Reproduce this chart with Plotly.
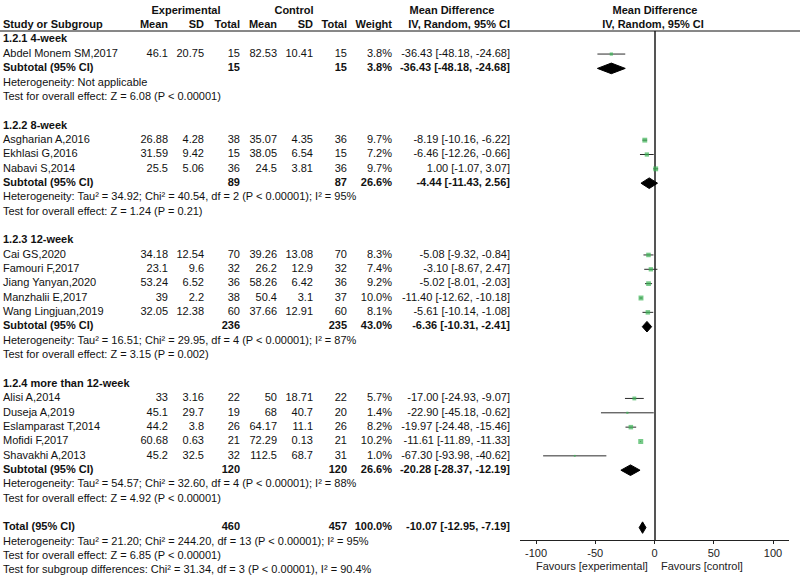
import plotly.graph_objects as go

# ---------------- data ----------------
groups = ["1.2.1 4-week", "1.2.2 8-week", "1.2.3 12-week", "1.2.4 more than 12-week"]
study = ["Abdel Monem SM,2017",
         "Asgharian A,2016", "Ekhlasi G,2016", "Nabavi S,2014",
         "Cai GS,2020", "Famouri F,2017", "Jiang Yanyan,2020", "Manzhalii E,2017", "Wang Lingjuan,2019",
         "Alisi A,2014", "Duseja A,2019", "Eslamparast T,2014", "Mofidi F,2017", "Shavakhi A,2013"]
group_of = [0, 1, 1, 1, 2, 2, 2, 2, 2, 3, 3, 3, 3, 3]
exp_mean = [46.1, 26.88, 31.59, 25.5, 34.18, 23.1, 53.24, 39, 32.05, 33, 45.1, 44.2, 60.68, 45.2]
exp_sd = [20.75, 4.28, 9.42, 5.06, 12.54, 9.6, 6.52, 2.2, 12.38, 3.16, 29.7, 3.8, 0.63, 32.5]
exp_n = [15, 38, 15, 36, 70, 32, 36, 38, 60, 22, 19, 26, 21, 32]
ctl_mean = [82.53, 35.07, 38.05, 24.5, 39.26, 26.2, 58.26, 50.4, 37.66, 50, 68, 64.17, 72.29, 112.5]
ctl_sd = [10.41, 4.35, 6.54, 3.81, 13.08, 12.9, 6.42, 3.1, 12.91, 18.71, 40.7, 11.1, 0.13, 68.7]
ctl_n = [15, 36, 15, 36, 70, 32, 36, 37, 60, 22, 20, 26, 21, 31]
weight = [3.8, 9.7, 7.2, 9.7, 8.3, 7.4, 9.2, 10.0, 8.1, 5.7, 1.4, 8.2, 10.2, 1.0]
md = [-36.43, -8.19, -6.46, 1.00, -5.08, -3.10, -5.02, -11.40, -5.61, -17.00, -22.90, -19.97, -11.61, -67.30]
ci_lo = [-48.18, -10.16, -12.26, -1.07, -9.32, -8.67, -8.01, -12.62, -10.14, -24.93, -45.18, -24.48, -11.89, -93.98]
ci_hi = [-24.68, -6.22, -0.66, 3.07, -0.84, 2.47, -2.03, -10.18, -1.08, -9.07, -0.62, -15.46, -11.33, -40.62]

sub_exp_n = [15, 89, 236, 120]
sub_ctl_n = [15, 87, 235, 120]
sub_weight = [3.8, 26.6, 43.0, 26.6]
sub_md = [-36.43, -4.44, -6.36, -20.28]
sub_lo = [-48.18, -11.43, -10.31, -28.37]
sub_hi = [-24.68, 2.56, -2.41, -12.19]
sub_het = ["Heterogeneity: Not applicable",
           "Heterogeneity: Tau² = 34.92; Chi² = 40.54, df = 2 (P < 0.00001); I² = 95%",
           "Heterogeneity: Tau² = 16.51; Chi² = 29.95, df = 4 (P < 0.00001); I² = 87%",
           "Heterogeneity: Tau² = 54.57; Chi² = 32.60, df = 4 (P < 0.00001); I² = 88%"]
sub_test = ["Test for overall effect: Z = 6.08 (P < 0.00001)",
            "Test for overall effect: Z = 1.24 (P = 0.21)",
            "Test for overall effect: Z = 3.15 (P = 0.002)",
            "Test for overall effect: Z = 4.92 (P < 0.00001)"]

total_exp_n = 460
total_ctl_n = 457
total_weight = 100.0
total_md = -10.07
total_lo = -12.95
total_hi = -7.19
total_notes = ["Heterogeneity: Tau² = 21.20; Chi² = 244.20, df = 13 (P < 0.00001); I² = 95%",
               "Test for overall effect: Z = 6.85 (P < 0.00001)",
               "Test for subgroup differences: Chi² = 31.34, df = 3 (P < 0.00001), I² = 90.4%"]

tick_vals = [-100, -50, 0, 50, 100]
tick_text = ["-100", "-50", "0", "50", "100"]
favours = ["Favours [experimental]", "Favours [control]"]

# ---------------- layout constants ----------------
W, H = 800, 577
ROW0_PX = 39.7      # pixel y of row 0
ROW_PX = 14.35      # pixels per row
HEADER_PX = 31      # header rule
AXIS_PX = 540       # forest x-axis line
FONT = "Liberation Sans, Arial, sans-serif"
FS = 11


def px_to_row(p):
    return (p - ROW0_PX) / ROW_PX


# column anchors (pixel x on table axis)
X_NAME = 3
X_EM, X_ESD, X_EN = 168, 204, 240
X_CM, X_CSD, X_CN = 277, 313, 347
X_W, X_CI = 392, 510

left = {"x": [], "y": [], "t": []}
right = {"x": [], "y": [], "t": []}
center = {"x": [], "y": [], "t": []}


def add(d, x, y, t):
    d["x"].append(x)
    d["y"].append(y)
    d["t"].append(t)


def fnum(v):
    return f"{v:g}"


def fci(m, lo, hi):
    return f"{m:.2f} [{lo:.2f}, {hi:.2f}]"


# headers
add(center, 186, -2, "<b>Experimental</b>")
add(center, 294, -2, "<b>Control</b>")
add(center, 452, -2, "<b>Mean Difference</b>")
add(center, 655, -2, "<b>Mean Difference</b>")
add(left, X_NAME, -1, "<b>Study or Subgroup</b>")
for xx, tt in [(X_EM, "Mean"), (X_ESD, "SD"), (X_EN, "Total"), (X_CM, "Mean"), (X_CSD, "SD"),
               (X_CN, "Total"), (X_W, "Weight"), (X_CI, "IV, Random, 95% CI")]:
    add(right, xx, -1, f"<b>{tt}</b>")
add(center, 653, -1, "<b>IV, Random, 95% CI</b>")

study_rows = []
sub_rows = []
row = 0
for g, gname in enumerate(groups):
    add(left, X_NAME, row, f"<b>{gname}</b>")
    row += 1
    for i in range(len(study)):
        if group_of[i] != g:
            continue
        add(left, X_NAME, row, study[i])
        add(right, X_EM, row, fnum(exp_mean[i]))
        add(right, X_ESD, row, fnum(exp_sd[i]))
        add(right, X_EN, row, str(exp_n[i]))
        add(right, X_CM, row, fnum(ctl_mean[i]))
        add(right, X_CSD, row, fnum(ctl_sd[i]))
        add(right, X_CN, row, str(ctl_n[i]))
        add(right, X_W, row, f"{weight[i]:.1f}%")
        add(right, X_CI, row, fci(md[i], ci_lo[i], ci_hi[i]))
        study_rows.append(row)
        row += 1
    add(left, X_NAME, row, "<b>Subtotal (95% CI)</b>")
    add(right, X_EN, row, f"<b>{sub_exp_n[g]}</b>")
    add(right, X_CN, row, f"<b>{sub_ctl_n[g]}</b>")
    add(right, X_W, row, f"<b>{sub_weight[g]:.1f}%</b>")
    add(right, X_CI, row, f"<b>{fci(sub_md[g], sub_lo[g], sub_hi[g])}</b>")
    sub_rows.append(row)
    row += 1
    add(left, X_NAME, row, sub_het[g])
    row += 1
    add(left, X_NAME, row, sub_test[g])
    row += 2

total_row = row
add(left, X_NAME, row, "<b>Total (95% CI)</b>")
add(right, X_EN, row, f"<b>{total_exp_n}</b>")
add(right, X_CN, row, f"<b>{total_ctl_n}</b>")
add(right, X_W, row, f"<b>{total_weight:.1f}%</b>")
add(right, X_CI, row, f"<b>{fci(total_md, total_lo, total_hi)}</b>")
for k, note in enumerate(total_notes):
    add(left, X_NAME, row + 1 + k, note)

fig = go.Figure()

tfont = dict(family=FONT, size=FS, color="#111111")
for d, pos in [(left, "middle right"), (right, "middle left"), (center, "middle center")]:
    fig.add_trace(go.Scatter(x=d["x"], y=d["y"], text=d["t"], mode="text", textposition=pos,
                             textfont=tfont, xaxis="x2", yaxis="y", hoverinfo="skip",
                             cliponaxis=False, showlegend=False))

# CI lines
lx, ly = [], []
for i, r in enumerate(study_rows):
    lx += [ci_lo[i], ci_hi[i], None]
    ly += [r, r, None]
fig.add_trace(go.Scatter(x=lx, y=ly, mode="lines", line=dict(color="#2b2b2b", width=1),
                         xaxis="x", yaxis="y2", hoverinfo="skip", showlegend=False, cliponaxis=False))

# squares
fig.add_trace(go.Scatter(x=md, y=study_rows, mode="markers",
                         marker=dict(symbol="square", color="#3cb356",
                                     size=[1.4 * w ** 0.5 + 0.5 for w in weight], line=dict(width=0)),
                         xaxis="x", yaxis="y2", hoverinfo="skip", showlegend=False, cliponaxis=False))

# diamonds
dx, dy = [], []
for g, r in enumerate(sub_rows):
    h = 0.37
    dx += [sub_lo[g], sub_md[g], sub_hi[g], sub_md[g], sub_lo[g], None]
    dy += [r, r - h, r, r + h, r, None]
h = 0.4
dx += [total_lo, total_md, total_hi, total_md, total_lo]
dy += [total_row, total_row - h, total_row, total_row + h, total_row]
fig.add_trace(go.Scatter(x=dx, y=dy, mode="lines", fill="toself", fillcolor="black",
                         line=dict(color="black", width=1), xaxis="x", yaxis="y2",
                         hoverinfo="skip", showlegend=False, cliponaxis=False))

# axes geometry
x_lo, x_hi = -113.5, 113.5
dom_x = [520 / W, 789 / W]
fig.update_layout(
    width=W, height=H, margin=dict(l=0, r=0, t=0, b=0),
    paper_bgcolor="white", plot_bgcolor="rgba(0,0,0,0)",
    font=dict(family=FONT, size=FS, color="#111111"),
    xaxis=dict(domain=dom_x, range=[x_lo, x_hi], anchor="y2", showgrid=False,
               zeroline=True, zerolinecolor="#555555", zerolinewidth=1.5,
               showline=True, linecolor="#222222", linewidth=1,
               ticks="outside", ticklen=3, tickcolor="#222222",
               tickvals=tick_vals, ticktext=tick_text,
               tickfont=dict(family=FONT, size=11, color="#222222")),
    yaxis2=dict(domain=[1 - AXIS_PX / H, 1 - HEADER_PX / H],
                range=[px_to_row(AXIS_PX), px_to_row(HEADER_PX)],
                anchor="x", visible=False, showgrid=False, zeroline=False),
    xaxis2=dict(domain=[0, 1], range=[0, W], anchor="y", visible=False, showgrid=False, zeroline=False),
    yaxis=dict(domain=[0, 1], range=[px_to_row(H), px_to_row(0)], anchor="x2",
               visible=False, showgrid=False, zeroline=False),
    shapes=[dict(type="line", xref="paper", yref="paper", x0=0, x1=1,
                 y0=1 - HEADER_PX / H, y1=1 - HEADER_PX / H,
                 line=dict(color="#111111", width=1))],
    annotations=[
        dict(text=favours[0], x=-4, xref="x", xanchor="right", y=1 - 565.5 / H, yref="paper",
             yanchor="middle", showarrow=False, font=dict(family=FONT, size=FS, color="#222222")),
        dict(text=favours[1], x=4, xref="x", xanchor="left", y=1 - 565.5 / H, yref="paper",
             yanchor="middle", showarrow=False, font=dict(family=FONT, size=FS, color="#222222")),
    ],
)

fig.write_html("out.html", config={"displayModeBar": False},
               post_script="document.body.style.margin='0';document.body.style.overflow='hidden';")
